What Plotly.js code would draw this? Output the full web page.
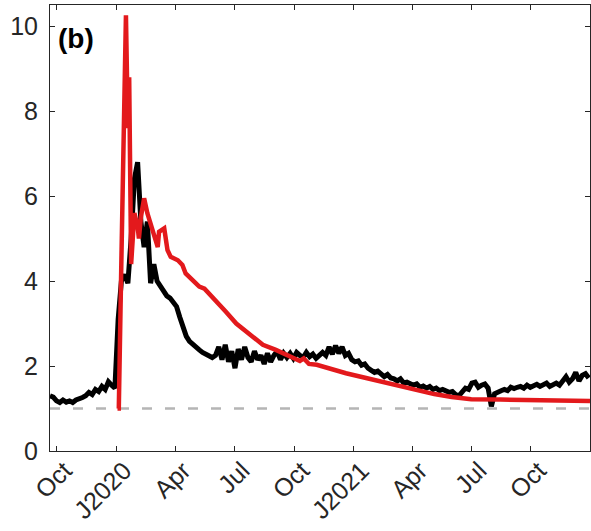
<!DOCTYPE html>
<html>
<head>
<meta charset="utf-8">
<script src="https://cdn.plot.ly/plotly-3.0.1.min.js"></script>
<style>html,body{margin:0;padding:0;background:#fff;}#chart{width:591px;height:531px;}</style>
</head>
<body>
<div id="chart"></div>
<script>
// Black series: one value every 5 days from 2019-09-21
const blackStart = '2019-09-21';
const blackStepDays = 5;
const blackValues = [
 1.30,1.27,1.18,1.14,1.20,1.15,1.18,1.14,1.20,1.22,
 1.26,1.30,1.38,1.33,1.45,1.40,1.52,1.45,1.63,1.55,
 1.48,3.10,4.00,4.15,3.95,5.00,6.40,6.80,5.40,4.80,
 5.40,3.95,4.40,4.00,3.87,3.75,3.65,3.60,3.48,3.40,
 3.15,2.90,2.70,2.58,2.50,2.42,2.38,2.32,2.28,2.25,
 2.20,2.25,2.45,2.15,2.50,2.10,2.35,1.95,2.40,2.15,
 2.45,2.20,2.10,2.35,2.15,2.25,2.05,2.30,2.10,2.25,
 2.35,2.15,2.30,2.20,2.30,2.18,2.32,2.25,2.20,2.32,
 2.22,2.28,2.18,2.25,2.32,2.25,2.45,2.28,2.48,2.30,
 2.45,2.25,2.30,2.15,2.10,2.12,2.02,2.05,1.95,1.90,
 1.85,1.88,1.80,1.75,1.80,1.72,1.70,1.65,1.70,1.60,
 1.62,1.58,1.55,1.58,1.50,1.53,1.48,1.52,1.45,1.48,
 1.42,1.45,1.40,1.38,1.40,1.33,1.30,1.38,1.48,1.45,
 1.60,1.62,1.50,1.55,1.58,1.48,1.05,1.35,1.40,1.42,
 1.45,1.42,1.50,1.47,1.50,1.52,1.48,1.55,1.50,1.55,
 1.57,1.52,1.56,1.60,1.52,1.57,1.60,1.55,1.65,1.75,
 1.62,1.70,1.85,1.65,1.78,1.82,1.72
];

// Red series
const redDates = [
 '2020-01-03','2020-01-05','2020-01-09','2020-01-16','2020-01-19','2020-01-21','2020-01-24',
 '2020-01-29','2020-02-03','2020-02-05','2020-02-08','2020-02-13','2020-02-18','2020-02-23',
 '2020-02-29','2020-03-05','2020-03-07','2020-03-15','2020-03-20','2020-03-25','2020-04-05',
 '2020-04-12','2020-04-17','2020-04-22','2020-05-03','2020-05-08','2020-05-16','2020-05-28',
 '2020-06-08','2020-06-18','2020-07-04','2020-07-24','2020-08-14','2020-09-03','2020-09-19',
 '2020-10-04','2020-10-10','2020-10-16','2020-10-24','2020-11-05','2020-11-25','2020-12-20',
 '2021-01-20','2021-02-15','2021-03-15','2021-04-10','2021-05-05','2021-06-01','2021-07-01',
 '2021-08-15','2021-10-01','2021-12-31'
];
const redValues = [
 1.0,1.0,4.5,10.26,7.6,8.8,4.4,
 5.6,5.28,5.0,5.5,5.95,5.6,5.36,
 5.04,4.8,5.16,5.24,4.73,4.57,4.49,
 4.38,4.18,4.1,3.95,3.87,3.82,3.63,
 3.45,3.28,3.0,2.75,2.5,2.38,2.26,
 2.17,2.12,2.18,2.05,2.03,1.93,1.83,
 1.72,1.62,1.52,1.43,1.34,1.27,1.22,
 1.21,1.2,1.18
];

const refLevel = 1;
const xRange = ['2019-09-21', '2021-12-31'];
const yRange = [0, 10.5];
const tickDates = ['2019-10-01','2020-01-01','2020-04-01','2020-07-01','2020-10-01','2021-01-01','2021-04-01','2021-07-01','2021-10-01'];
const tickLabels = ['Oct','J2020','Apr','Jul','Oct','J2021','Apr','Jul','Oct'];
const yTicks = [0,2,4,6,8,10];
const panelLabel = '(b)';

function addDays(iso, n) {
  const d = new Date(iso + 'T00:00:00Z');
  d.setUTCDate(d.getUTCDate() + n);
  return d.toISOString().slice(0, 10);
}
const blackDates = blackValues.map((_, i) => addDays(blackStart, i * blackStepDays));

const FONT = 'Liberation Sans, Arial, Helvetica, sans-serif';
const AX = '#262626';

const traces = [
  {x: blackDates, y: blackValues, type: 'scatter', mode: 'lines',
   line: {color: '#000000', width: 5}, hoverinfo: 'skip'},
  {x: redDates, y: redValues, type: 'scatter', mode: 'lines',
   line: {color: '#e3191c', width: 4.5}, hoverinfo: 'skip'}
];

const layout = {
  width: 591, height: 531,
  margin: {l: 50, r: 1, t: 5, b: 80},
  paper_bgcolor: '#ffffff', plot_bgcolor: '#ffffff',
  showlegend: false,
  font: {family: FONT, size: 24, color: AX},
  xaxis: {
    type: 'date', range: xRange,
    tickmode: 'array', tickvals: tickDates, ticktext: tickLabels,
    tickangle: -45, ticks: 'inside', ticklen: 5, tickwidth: 1, tickcolor: AX,
    showline: true, linecolor: AX, linewidth: 1, mirror: 'ticks',
    showgrid: false, zeroline: false,
    tickfont: {family: FONT, size: 25, color: AX},
    ticklabelshift: 8, ticklabelstandoff: -6
  },
  yaxis: {
    range: yRange, tickmode: 'array', tickvals: yTicks,
    ticks: 'inside', ticklen: 5, tickwidth: 1, tickcolor: AX,
    showline: true, linecolor: AX, linewidth: 1, mirror: 'ticks',
    showgrid: false, zeroline: false,
    tickfont: {family: FONT, size: 25, color: AX},
    ticklabelstandoff: 6
  },
  shapes: [{
    type: 'line', xref: 'paper', x0: 0, x1: 1, yref: 'y', y0: refLevel, y1: refLevel,
    line: {color: '#b5b5b5', width: 2.5, dash: '10px,13px'}, layer: 'below'
  }],
  annotations: [{
    text: '<b>' + panelLabel + '</b>', xref: 'paper', yref: 'paper',
    x: 0.012, y: 0.926, xanchor: 'left', yanchor: 'middle', showarrow: false,
    font: {family: FONT, size: 28, color: '#000000'}
  }]
};

Plotly.newPlot('chart', traces, layout, {staticPlot: true, displayModeBar: false});
</script>
</body>
</html>
